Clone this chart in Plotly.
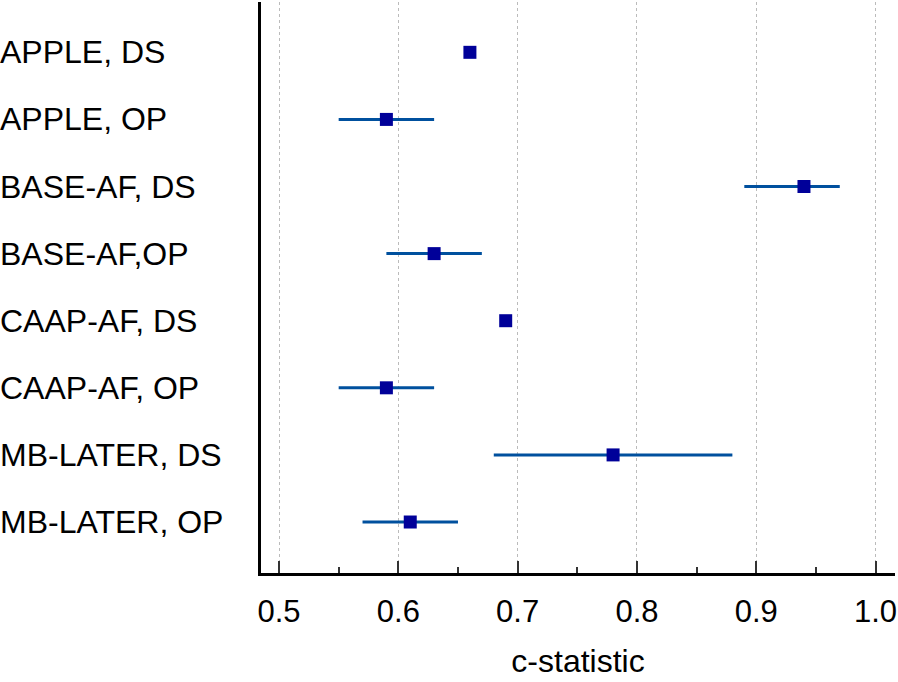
import plotly.graph_objects as go

# c-statistic per score and cohort
labels = ['APPLE, DS', 'APPLE, OP', 'BASE-AF, DS', 'BASE-AF,OP',
          'CAAP-AF, DS', 'CAAP-AF, OP', 'MB-LATER, DS', 'MB-LATER, OP']
cstat = [0.66, 0.59, 0.94, 0.63, 0.69, 0.59, 0.78, 0.61]
ci_low = [0.66, 0.55, 0.89, 0.59, 0.69, 0.55, 0.68, 0.57]
ci_high = [0.66, 0.63, 0.97, 0.67, 0.69, 0.63, 0.88, 0.65]
xticks = [0.5, 0.6, 0.7, 0.8, 0.9, 1.0]

W, H = 898, 682
ml, mr, mt, mb = 261, 3, 2, 109
plot_w = W - ml - mr
font = 'Liberation Sans, Arial, sans-serif'
xrange_ = [0.4849, 1.0163]

fig = go.Figure()

# confidence interval lines
for lab, lo, hi in zip(labels, ci_low, ci_high):
    if hi > lo:
        fig.add_trace(go.Scatter(x=[lo, hi], y=[lab, lab], mode='lines',
                                 line=dict(color='#00509E', width=3),
                                 showlegend=False, hoverinfo='skip'))

# point estimates
fig.add_trace(go.Scatter(x=cstat, y=labels, mode='markers',
                         marker=dict(symbol='square', size=13, color='#000099',
                                     line=dict(width=0)),
                         showlegend=False))

# invisible copy on the overlay axis so its tick marks get drawn
fig.add_trace(go.Scatter(x=cstat, y=labels, xaxis='x2', mode='markers',
                         marker=dict(opacity=0), showlegend=False,
                         hoverinfo='skip'))

# left aligned row labels
for lab in labels:
    fig.add_annotation(x=-ml / plot_w, y=lab, xref='paper', yref='y',
                       text=lab, showarrow=False, xanchor='left', xshift=-2,
                       font=dict(size=32, color='black', family=font))

fig.update_layout(
    width=W, height=H,
    margin=dict(l=ml, r=mr, t=mt, b=mb),
    plot_bgcolor='white', paper_bgcolor='white',
    font=dict(family=font, size=30, color='black'),
    # overlay axis only to draw the long major tick marks
    xaxis2=dict(overlaying='x', anchor='y', side='bottom', range=xrange_,
                tickvals=xticks, showticklabels=False, showgrid=False,
                ticks='inside', ticklen=12, tickwidth=2, tickcolor='#333',
                zeroline=False, showline=False),
)
fig.layout.xaxis.update(
    range=xrange_,
    tickvals=xticks, tickformat='.1f',
    ticks='inside', ticklen=1, tickwidth=0, tickcolor='rgba(0,0,0,0)',
    minor=dict(ticks='inside', ticklen=6, tickwidth=2, tickcolor='#333',
               dtick=0.05, tick0=0.5, showgrid=False),
    showgrid=True, gridcolor='#BBBBBB', griddash='dot', gridwidth=1,
    showline=True, linecolor='black', linewidth=3,
    zeroline=False,
    tickfont=dict(size=31), ticklabelstandoff=9,
    title=dict(text='c-statistic', font=dict(size=32), standoff=22),
)
fig.update_yaxes(
    type='category', categoryorder='array', categoryarray=labels,
    range=[7.76, -0.75],
    showticklabels=False, ticks='', showgrid=False,
    showline=True, linecolor='black', linewidth=3, zeroline=False,
)

fig.write_html('out.html', config={'displayModeBar': False},
               post_script="document.body.style.margin='0';")
